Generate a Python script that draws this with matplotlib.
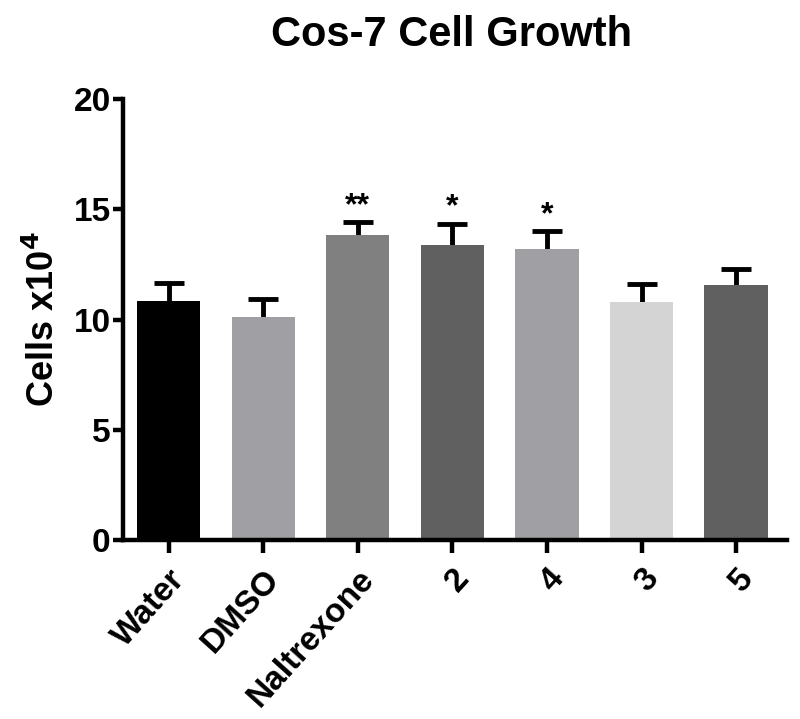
import numpy as np
import matplotlib
matplotlib.use('Agg')
import matplotlib.pyplot as plt

plt.rcParams['font.family'] = ['Liberation Sans', 'DejaVu Sans']
plt.rcParams['font.weight'] = 'bold'

groups = ['Water', 'DMSO', 'Naltrexone', '2', '4', '3', '5']
means = [10.84, 10.1, 13.83, 13.4, 13.22, 10.78, 11.56]
sems = [0.82, 0.83, 0.58, 0.96, 0.78, 0.83, 0.72]
stars = ['', '', '**', '*', '*', '', '']
colors = ['#000000', '#a0a0a4', '#808080', '#606060', '#a0a0a4', '#d4d4d4', '#606060']

fig = plt.figure(figsize=(8, 7.19), dpi=100)
ax = fig.add_axes([0.154, 0.249, 0.83, 0.613])

x = np.arange(len(groups))
ax.bar(x, means, width=0.67, color=colors, zorder=2)
eb = ax.errorbar(x, means, yerr=[np.zeros(len(x)), sems], fmt='none', ecolor='black',
                 elinewidth=3.5, capsize=11, capthick=3.5, zorder=1)
# only the upper caps
eb[1][0].set_visible(False)

for xi, m, s, st in zip(x, means, sems, stars):
    if st:
        ax.text(xi, m + s + 0.05, st, ha='center', va='bottom', fontsize=23, fontweight='bold')

ax.set_xlim(-0.48, 6.54)
ax.set_ylim(0, 20)
ax.set_yticks([0, 5, 10, 15, 20])
ax.set_xticks(x)
ax.set_xticklabels(groups, rotation=48, ha='right', rotation_mode='anchor', fontsize=24, fontweight='bold')
ax.tick_params(axis='y', labelsize=24, width=3.2, length=7, pad=2)
ax.tick_params(axis='x', width=3.2, length=9, pad=8)
for lbl in ax.get_yticklabels():
    lbl.set_fontweight('bold')

for side in ['top', 'right']:
    ax.spines[side].set_visible(False)
for side in ['left', 'bottom']:
    ax.spines[side].set_linewidth(3.2)

ax.set_ylabel('Cells x10$^{\\mathbf{4}}$', fontsize=26, fontweight='bold', labelpad=8)
fig.text(0.565, 0.952, 'Cos-7 Cell Growth', ha='center', va='center', fontsize=30, fontweight='bold')

plt.savefig('out.png', dpi=100)
